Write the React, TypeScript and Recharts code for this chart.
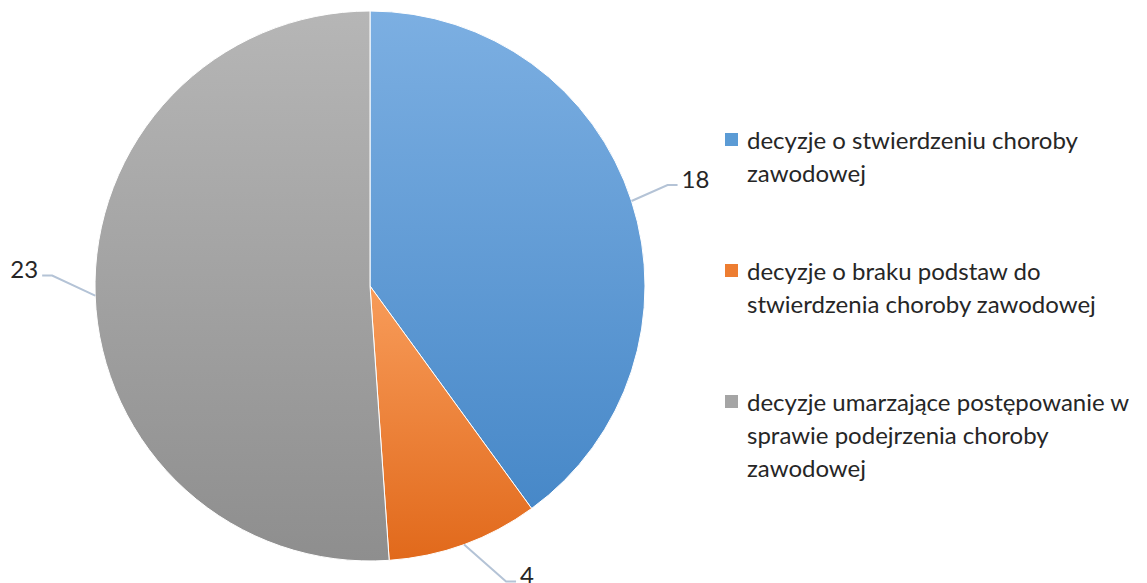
import { Legend, Pie, PieChart, Cell } from 'recharts';

document.body.style.margin = '0';

const categories = [
    'decyzje o stwierdzeniu choroby\nzawodowej',
    'decyzje o braku podstaw do\nstwierdzenia choroby zawodowej',
    'decyzje umarzające postępowanie w\nsprawie podejrzenia choroby\nzawodowej',
];
const values = [18, 4, 23];

const gradients = [
    ['#7cafe2', '#4788c8'],
    ['#f89c5a', '#e1691b'],
    ['#b6b6b6', '#8e8e8e'],
];
const swatches = ['#5b9bd5', '#ed7d31', '#a5a5a5'];
// elbow offsets of the leader lines from the slice edge
const leaderOffsets = [
    [36, -16],
    [42, 37],
    [-43, -20],
];

const data = categories.map((name, i) => ({ name, value: values[i] }));

const RADIAN = Math.PI / 180;
const FONT = 'Lato, "Open Sans", sans-serif';
const TEXT = '#262626';

const renderLabel = (props: any) => {
    const { cx, cy, midAngle, outerRadius, index, value } = props;
    const ex = cx + outerRadius * Math.cos(-midAngle * RADIAN);
    const ey = cy + outerRadius * Math.sin(-midAngle * RADIAN);
    const [ox, oy] = leaderOffsets[index];
    const mx = ex + ox;
    const my = ey + oy;
    const dir = ox >= 0 ? 1 : -1;
    const hx = mx + dir * 10;
    return (
        <g>
            <polyline
                points={`${ex},${ey} ${mx},${my} ${hx},${my}`}
                fill="none"
                stroke="#b4c3d6"
                strokeWidth={2}
            />
            <text
                x={hx + dir * 4}
                y={my - 7}
                textAnchor={dir > 0 ? 'start' : 'end'}
                dominantBaseline="central"
                fontFamily={FONT}
                fontSize={24}
                fill={TEXT}
            >
                {value}
            </text>
        </g>
    );
};

const renderLegend = () => (
    <div style={{ fontFamily: FONT, fontSize: 24, color: TEXT, lineHeight: '33px' }}>
        {data.map((d, i) => (
            <div key={i} style={{ display: 'flex', alignItems: 'flex-start', marginBottom: 65 }}>
                <span
                    style={{
                        display: 'inline-block',
                        width: 13,
                        height: 13,
                        marginTop: 10,
                        marginRight: 9,
                        background: swatches[i],
                        flexShrink: 0,
                    }}
                />
                <span style={{ whiteSpace: 'pre-line' }}>{d.name}</span>
            </div>
        ))}
    </div>
);

export default function App() {
    return (
        <PieChart width={1147} height={583}>
            <defs>
                {gradients.map((g, i) => (
                    <linearGradient key={i} id={`grad${i}`} x1="0" y1="0" x2="0" y2="1">
                        <stop offset="0%" stopColor={g[0]}/>
                        <stop offset="100%" stopColor={g[1]}/>
                    </linearGradient>
                ))}
            </defs>
            <Pie
                data={data}
                dataKey="value"
                nameKey="name"
                cx={365}
                cy={281}
                outerRadius={275}
                startAngle={90}
                endAngle={-270}
                stroke="#ffffff"
                strokeWidth={1}
                label={renderLabel}
                labelLine={false}
                isAnimationActive={false}
            >
                {data.map((_, i) => (
                    <Cell key={i} fill={`url(#grad${i})`}/>
                ))}
            </Pie>
            <Legend
                content={renderLegend}
                wrapperStyle={{ left: 725, top: 123, width: 422 }}
            />
        </PieChart>
    );
}
